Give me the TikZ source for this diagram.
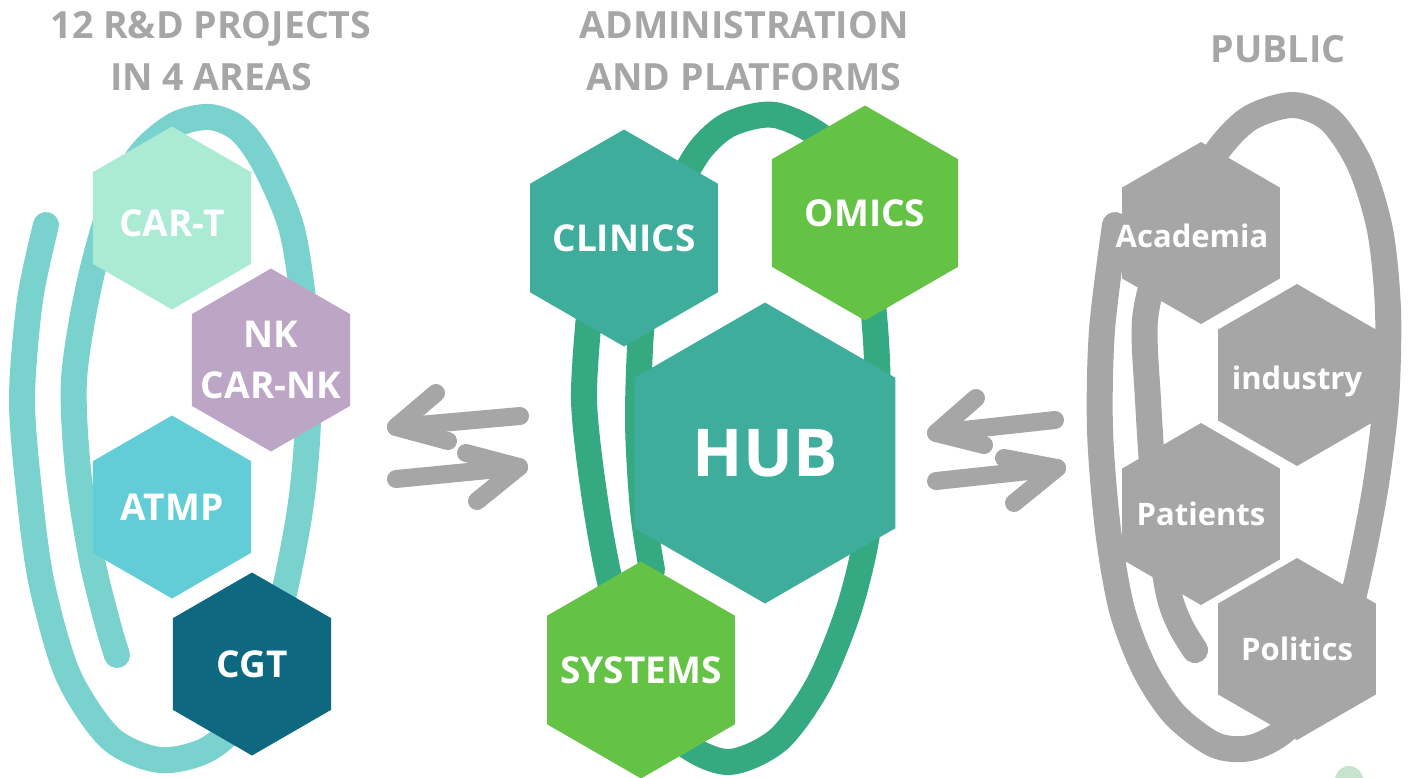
\documentclass[tikz,border=0pt]{standalone}
\usepackage{fontspec}
\setmainfont{Open Sans}
\usetikzlibrary{shapes.geometric}
\definecolor{cartcol}{HTML}{ABEBD4}
\definecolor{nkcol}{HTML}{BDA5C6}
\definecolor{atmpcol}{HTML}{62CDD6}
\definecolor{cgtcol}{HTML}{0E6880}
\definecolor{leftswirl}{HTML}{79D2CE}
\definecolor{hubcol}{HTML}{3EAD9C}
\definecolor{omicscol}{HTML}{64C244}
\definecolor{midswirl}{HTML}{35A97F}
\definecolor{greycol}{HTML}{A6A6A6}
\definecolor{dotcol}{HTML}{C5E4CB}
\begin{document}
\begin{tikzpicture}[x=1pt, y=-1pt,
	hexa/.style={regular polygon, regular polygon sides=6, regular polygon rotate=30, inner sep=0pt, minimum size=#1},
	hextext/.style={text=white, font=\fontsize{37}{51}\selectfont\bfseries, align=center},
	pubtext/.style={text=white, font=\fontsize{31}{36}\selectfont\bfseries, text depth=0pt},
	headline/.style={text=greycol, font=\fontsize{37.5}{52}\selectfont\bfseries, align=center},
	swirl/.style={line width=#1, line cap=round, line join=round},
	brush/.style={draw=greycol, line width=18pt, line cap=round, line join=round}]
	\useasboundingbox (0,0) rectangle (1410,777);
	% brush loops behind the hexagons
	\draw[swirl=26pt, leftswirl] plot[smooth] coordinates {(46,225) (30,300) (22,400) (30,500) (42,585) (68,675) (110,738) (160,760) (210,748) (250,705) (280,610) (300,510) (308,420) (305,320) (292,230) (265,165) (240,130) (210,117) (175,125) (140,155) (110,210) (88,290) (74,380) (78,470) (92,560) (108,625) (117,655)};
	\draw[swirl=26pt, midswirl] plot[smooth] coordinates {(590,305) (584,400) (595,500) (612,590) (640,680) (680,740) (728,762) (778,740) (818,685) (848,612) (866,540) (877,450) (877,360) (870,280) (852,190) (825,140) (775,115) (730,124) (700,150) (675,195) (655,250) (642,320) (638,420) (643,510) (652,570)};
	\draw[swirl=26pt, greycol] plot[smooth] coordinates {(1115,225) (1102,330) (1100,430) (1108,530) (1122,610) (1145,670) (1175,715) (1215,745) (1250,748) (1285,730) (1330,680) (1355,590) (1375,490) (1386,400) (1388,310) (1380,230) (1360,165) (1330,120) (1293,105) (1250,118) (1218,150) (1190,200) (1160,260) (1145,320) (1148,400) (1155,500) (1168,590) (1180,625) (1195,650)};

	\node[headline] (projects) at (211,51) {12 R\&D PROJECTS\\IN 4 AREAS};
	\node[headline] (admin) at (744,51) {ADMINISTRATION\\AND PLATFORMS};
	\node[headline] (public) at (1278,49) {PUBLIC};

	\node[hexa=183pt, fill=cartcol, label={[hextext, yshift=-5pt]center:CAR-T}] (cart) at (172,218) {};
	\node[hexa=183pt, fill=nkcol, label={[hextext]center:NK\\CAR-NK}] (nk) at (271,360) {};
	\node[hexa=183pt, fill=atmpcol, label={[hextext]center:ATMP}] (atmp) at (172,507) {};
	\node[hexa=183pt, fill=cgtcol, label={[hextext]center:CGT}] (cgt) at (252,664) {};

	\node[hexa=217pt, fill=hubcol, label={[hextext]center:CLINICS}] (clinics) at (624,238) {};
	\node[hexa=215pt, fill=omicscol, label={[hextext]center:OMICS}] (omics) at (865,213) {};
	\node[hexa=301pt, fill=hubcol, label={[hextext, font=\fontsize{66}{70}\selectfont\bfseries]center:HUB}] (hub) at (765,453) {};
	\node[hexa=217pt, fill=omicscol, label={[hextext]center:SYSTEMS}] (systems) at (641,670) {};

	\node[hexa=182pt, fill=greycol, label={[pubtext, xshift=-9pt, yshift=-3pt]center:Academia}] (academia) at (1201,233) {};
	\node[hexa=182pt, fill=greycol, label={[pubtext, yshift=-3pt]center:industry}] (industry) at (1297,375) {};
	\node[hexa=182pt, fill=greycol, label={[pubtext]center:Patients}] (patients) at (1201,514) {};
	\node[hexa=182pt, fill=greycol, label={[pubtext]center:Politics}] (politics) at (1297,649) {};

	% hand drawn double arrows
	\coordinate (ltip1) at (396,427);
	\coordinate (ltail1) at (520,416);
	\coordinate (ltip2) at (519,467);
	\coordinate (ltail2) at (396,479);
	\coordinate (rtip1) at (936,433);
	\coordinate (rtail1) at (1055,420);
	\coordinate (rtip2) at (1057,468);
	\coordinate (rtail2) at (936,481);
	\draw[brush] (ltail1) -- (ltip1);
	\draw[brush] (ltip1) ++(40,-34) -- (ltip1) -- ++(52,14);
	\draw[brush] (ltail2) -- (ltip2);
	\draw[brush] (ltip2) ++(-53,-14) -- (ltip2) -- ++(-42,34);
	\draw[brush] (rtail1) -- (rtip1);
	\draw[brush] (rtip1) ++(40,-35) -- (rtip1) -- ++(48,12);
	\draw[brush] (rtail2) -- (rtip2);
	\draw[brush] (rtip2) ++(-53,-10) -- (rtip2) -- ++(-43,35);

	\fill[dotcol] (1349,780) circle (14pt);
\end{tikzpicture}
\end{document}
